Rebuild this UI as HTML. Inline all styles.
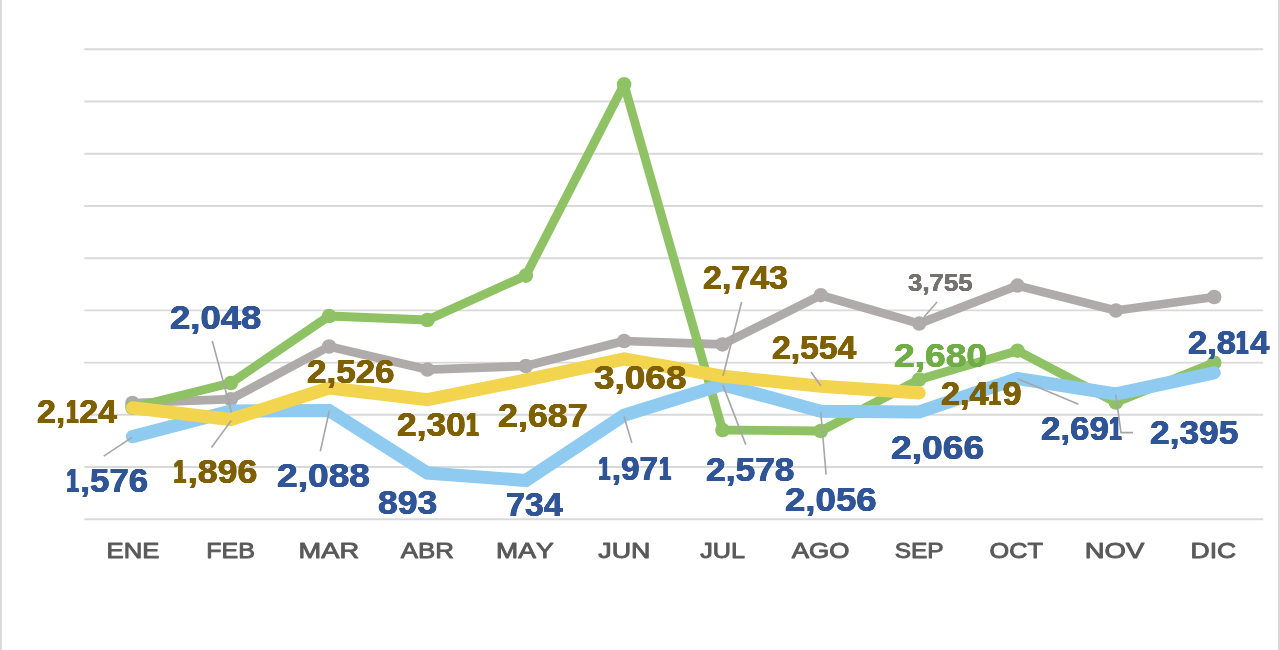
<!DOCTYPE html>
<html lang="es">
<head>
<meta charset="utf-8">
<title>Gráfico mensual</title>
<style>
html,body{margin:0;padding:0;background:#fff;}
body{width:1280px;height:650px;overflow:hidden;position:relative;}
svg{position:absolute;left:0;top:0;display:block;}
.n{font-kerning:none;position:absolute;white-space:nowrap;height:40px;line-height:40px;font-family:"Liberation Sans","DejaVu Sans",sans-serif;font-weight:700;transform-origin:0 0;margin:0;padding:0;}
.n{text-shadow:0.45px 0 0,-0.45px 0 0,0 0.45px 0,0 -0.45px 0;}
.n.s{text-shadow:0.3px 0 0,-0.3px 0 0,0 0.3px 0,0 -0.3px 0;}
.o{display:inline-block;transform:scaleX(0.62);margin:0 -0.061em 0 -0.083em;text-shadow:0.75px 0 0,-0.75px 0 0,1.5px 0 0,-1.5px 0 0,0 0.45px 0,0 -0.45px 0;}
.s .o{text-shadow:0.5px 0 0,-0.5px 0 0,1px 0 0,-1px 0 0,0 0.3px 0,0 -0.3px 0;}
.mon{font-family:"Liberation Sans","DejaVu Sans",sans-serif;font-weight:400;font-kerning:none;fill:#595959;stroke:#595959;stroke-linejoin:round;}
.ser{fill:none;stroke-linecap:round;stroke-linejoin:round;}
</style>
</head>
<body>
<svg width="1280" height="650" viewBox="0 0 1280 650">
<rect x="0" y="0" width="1280" height="650" fill="#ffffff"/>
<rect x="0" y="0" width="1.9" height="650" fill="#d9d9d9"/>
<rect x="1278" y="0" width="2" height="650" fill="#d9d9d9"/>

<g stroke="#d9d9d9" stroke-width="1.9">
<line x1="84.3" y1="49.2" x2="1263.2" y2="49.2"/>
<line x1="84.3" y1="101.45" x2="1263.2" y2="101.45"/>
<line x1="84.3" y1="153.7" x2="1263.2" y2="153.7"/>
<line x1="84.3" y1="205.95" x2="1263.2" y2="205.95"/>
<line x1="84.3" y1="258.2" x2="1263.2" y2="258.2"/>
<line x1="84.3" y1="310.4" x2="1263.2" y2="310.4"/>
<line x1="84.3" y1="362.6" x2="1263.2" y2="362.6"/>
<line x1="84.3" y1="414.8" x2="1263.2" y2="414.8"/>
<line x1="84.3" y1="467.0" x2="1263.2" y2="467.0"/>
<line x1="84.3" y1="519.2" x2="1263.2" y2="519.2"/>
</g>
<polyline class="ser" points="132.4,403 230.8,399.2 329.1,346.5 427.4,369.6 525.8,366 624.1,341 722.5,344.4 820.8,295.2 919.2,323.6 1017.5,285.6 1115.9,310.5 1214.2,297" stroke="#afabab" stroke-width="8.7" style="stroke-linejoin:round"/>
<g fill="#afabab"><circle cx="132.4" cy="403" r="7.25"/><circle cx="230.8" cy="399.2" r="7.25"/><circle cx="329.1" cy="346.5" r="7.25"/><circle cx="427.4" cy="369.6" r="7.25"/><circle cx="525.8" cy="366" r="7.25"/><circle cx="624.1" cy="341" r="7.25"/><circle cx="722.5" cy="344.4" r="7.25"/><circle cx="820.8" cy="295.2" r="7.25"/><circle cx="919.2" cy="323.6" r="7.25"/><circle cx="1017.5" cy="285.6" r="7.25"/><circle cx="1115.9" cy="310.5" r="7.25"/><circle cx="1214.2" cy="297" r="7.25"/></g>
<polyline class="ser" points="132.4,407.5 230.8,383 329.1,316 427.4,320 525.8,275.6 624.1,84.4 722.5,430 820.8,431 919.2,379.5 1017.5,350.7 1115.9,402.5 1214.2,362.7" stroke="#8fc165" stroke-width="8.9" style="stroke-linejoin:round"/>
<g fill="#8fc165"><circle cx="132.4" cy="407.5" r="7.3"/><circle cx="230.8" cy="383" r="7.3"/><circle cx="329.1" cy="316" r="7.3"/><circle cx="427.4" cy="320" r="7.3"/><circle cx="525.8" cy="275.6" r="7.3"/><circle cx="624.1" cy="84.4" r="7.3"/><circle cx="722.5" cy="430" r="7.3"/><circle cx="820.8" cy="431" r="7.3"/><circle cx="919.2" cy="379.5" r="7.3"/><circle cx="1017.5" cy="350.7" r="7.3"/><circle cx="1115.9" cy="402.5" r="7.3"/><circle cx="1214.2" cy="362.7" r="7.3"/></g>
<polyline class="ser" points="132.4,436.6 230.8,411 329.1,410.5 427.4,473 525.8,480.5 624.1,415.3 722.5,384.6 820.8,411.3 919.2,412 1017.5,378.5 1115.9,394 1214.2,372.8" stroke="#8fcbf0" stroke-width="13.1" style="stroke-linejoin:miter"/>
<polyline class="ser" points="132.4,407.8 230.8,419.5 329.1,388 427.4,399.7 525.8,380 624.1,359 722.5,376.2 820.8,386.3 919.2,392.9" stroke="#f2d44e" stroke-width="13.1" style="stroke-linejoin:miter"/>
<g fill="none" stroke="#a6a6a6" stroke-width="1.6">
<polyline points="132.1,437.3 103.7,456.2"/>
<polyline points="212.3,341 231.5,412.3"/>
<polyline points="231.3,420.5 211.5,447.5"/>
<polyline points="329.4,410.5 320.3,451.4"/>
<polyline points="624,416.5 631.8,442.8"/>
<polyline points="741.6,302 723,376"/>
<polyline points="811,372 821,386"/>
<polyline points="722.7,384.6 745.8,444.6"/>
<polyline points="820.8,412.3 826.1,474.6"/>
<polyline points="937,302 924,317"/>
<polyline points="1017.7,378.8 1078.5,404.2"/>
<polyline points="1115.7,394.6 1121,432.6 1133,432.6"/>
</g>
<g class="mon" stroke-width="0.9">
<text transform="translate(106.54,558.25) scale(1.1661,1)" font-size="22.07">ENE</text>
<text transform="translate(206.20,558.25) scale(1.1340,1)" font-size="22.07">FEB</text>
<text transform="translate(298.62,558.25) scale(1.2335,1)" font-size="22.07">MAR</text>
<text transform="translate(400.80,558.25) scale(1.1735,1)" font-size="22.07">ABR</text>
<text transform="translate(496.07,558.25) scale(1.2058,1)" font-size="22.07">MAY</text>
<text transform="translate(598.23,558.25) scale(1.2167,1)" font-size="22.07">JUN</text>
<text transform="translate(700.26,558.25) scale(1.1423,1)" font-size="22.07">JUL</text>
<text transform="translate(791.70,558.25) scale(1.1761,1)" font-size="22.07">AGO</text>
<text transform="translate(894.64,558.25) scale(1.1096,1)" font-size="22.07">SEP</text>
<text transform="translate(989.55,558.25) scale(1.1458,1)" font-size="22.07">OCT</text>
<text transform="translate(1084.80,558.25) scale(1.2435,1)" font-size="22.07">NOV</text>
<text transform="translate(1190.57,558.25) scale(1.2020,1)" font-size="22.07">DIC</text>
</g>
</svg>
<div class="n" style="left:36.76px;top:391px;color:#7f6000;font-size:34.0px;transform:scaleX(0.9973)">2,<span class="o">1</span>24</div>
<div class="n" style="left:66.37px;top:460px;color:#2f5597;font-size:34.0px;transform:scaleX(1.0231)"><span class="o">1</span>,576</div>
<div class="n" style="left:170.36px;top:297px;color:#2f5597;font-size:34.0px;transform:scaleX(1.0732)">2,048</div>
<div class="n" style="left:172.64px;top:451px;color:#7f6000;font-size:34.0px;transform:scaleX(1.0524)"><span class="o">1</span>,896</div>
<div class="n" style="left:307.24px;top:351px;color:#7f6000;font-size:34.0px;transform:scaleX(1.0293)">2,526</div>
<div class="n" style="left:276.89px;top:455px;color:#2f5597;font-size:34.0px;transform:scaleX(1.0929)">2,088</div>
<div class="n" style="left:397.13px;top:404px;color:#7f6000;font-size:34.0px;transform:scaleX(1.0393)">2,30<span class="o">1</span></div>
<div class="n" style="left:378.23px;top:482px;color:#2f5597;font-size:34.0px;transform:scaleX(1.0434)">893</div>
<div class="n" style="left:498.02px;top:395px;color:#7f6000;font-size:34.0px;transform:scaleX(1.0542)">2,687</div>
<div class="n" style="left:505.99px;top:484px;color:#2f5597;font-size:34.0px;transform:scaleX(1.0004)">734</div>
<div class="n" style="left:593.74px;top:357px;color:#7f6000;font-size:34.0px;transform:scaleX(1.0864)">3,068</div>
<div class="n" style="left:598.30px;top:448px;color:#2f5597;font-size:34.0px;transform:scaleX(0.9793)"><span class="o">1</span>,97<span class="o">1</span></div>
<div class="n" style="left:702.86px;top:257px;color:#7f6000;font-size:34.0px;transform:scaleX(0.9982)">2,743</div>
<div class="n" style="left:705.73px;top:449px;color:#2f5597;font-size:34.0px;transform:scaleX(1.0403)">2,578</div>
<div class="n" style="left:771.87px;top:327px;color:#7f6000;font-size:34.0px;transform:scaleX(0.9916)">2,554</div>
<div class="n" style="left:784.70px;top:479px;color:#2f5597;font-size:34.0px;transform:scaleX(1.0771)">2,056</div>
<div class="n s" style="left:907.74px;top:263px;color:#767171;font-size:23.4px;transform:scaleX(1.1043)">3,755</div>
<div class="n" style="left:893.59px;top:335px;color:#70ad47;font-size:34.0px;transform:scaleX(1.0937)">2,680</div>
<div class="n" style="left:941.26px;top:373px;color:#7f6000;font-size:34.0px;transform:scaleX(1.0048)">2,4<span class="o">1</span>9</div>
<div class="n" style="left:890.79px;top:427px;color:#2f5597;font-size:34.0px;transform:scaleX(1.0939)">2,066</div>
<div class="n" style="left:1041.04px;top:408px;color:#2f5597;font-size:34.0px;transform:scaleX(1.0266)">2,69<span class="o">1</span></div>
<div class="n" style="left:1150.43px;top:412px;color:#2f5597;font-size:34.0px;transform:scaleX(1.0379)">2,395</div>
<div class="n" style="left:1188.05px;top:322px;color:#2f5597;font-size:34.0px;transform:scaleX(1.0136)">2,8<span class="o">1</span>4</div>
</body>
</html>
